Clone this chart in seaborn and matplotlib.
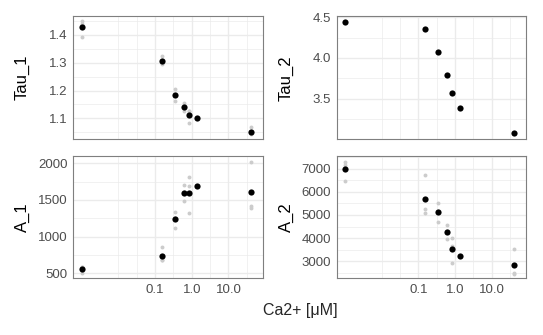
import numpy as np
import pandas as pd
import matplotlib
matplotlib.use("Agg")
import matplotlib.pyplot as plt
from matplotlib.ticker import FixedLocator, NullLocator
import seaborn as sns

# ---- data ----
conc = [0.001, 0.15, 0.35, 0.6, 0.85, 1.37, 40.0]
tau1_mean = [1.428, 1.305, 1.184, 1.142, 1.112, 1.102, 1.052]
tau2_mean = [4.439, 4.353, 4.072, 3.790, 3.570, 3.386, 3.088]
a1_mean = [559, 740, 1236, 1598, 1598, 1694, 1612]
a2_mean = [6985, 5696, 5130, 4260, 3506, 3217, 2813]

rep_conc = [0.001] * 3 + [0.15] * 3 + [0.35] * 3 + [0.6] * 3 + [0.85] * 3 + [40.0] * 3
tau1_rep = [1.450, 1.394, 1.440, 1.324, 1.295, 1.299, 1.205, 1.163, 1.184,
            1.156, 1.142, 1.128, 1.126, 1.084, 1.126, 1.068, 1.046, 1.042]
a1_rep = [508, 580, 589, 862, 681, 677, 1340, 1113, 1255,
          1703, 1489, 1602, 1816, 1690, 1317, 2020, 1417, 1394]
a2_rep = [7320, 6480, 7155, 6726, 5248, 5100, 5509, 4709, 5172,
          4552, 3943, 4285, 3987, 2900, 3631, 3507, 2490, 2442]

x_ticks = [0.1, 1.0, 10.0]
x_ticklabels = ["0.1", "1.0", "10.0"]

panels = [
    ("Tau_1", tau1_mean, tau1_rep, (1.0256, 1.468), [1.1, 1.2, 1.3, 1.4], ["1.1", "1.2", "1.3", "1.4"], 0.05),
    ("Tau_2", tau2_mean, None, (3.010, 4.507), [3.5, 4.0, 4.5], ["3.5", "4.0", "4.5"], 0.25),
    ("A_1", a1_mean, a1_rep, (432, 2098), [500, 1000, 1500, 2000], ["500", "1000", "1500", "2000"], 250),
    ("A_2", a2_mean, a2_rep, (2248, 7565), [3000, 4000, 5000, 6000, 7000],
     ["3000", "4000", "5000", "6000", "7000"], 500),
]

# ---- style ----
sns.set_style("white")
plt.rcParams["font.family"] = ["Liberation Sans", "DejaVu Sans"]

W, H = 543, 335
fig = plt.figure(figsize=(W / 100, H / 100), dpi=100)

# pixel boxes (left, top, right, bottom)
boxes = [(73.3, 16, 263, 139), (336.7, 16.5, 526, 139),
         (73.3, 156, 263, 278.3), (336.7, 156, 526, 278.3)]
title_x = [22.5, 286.5, 22.5, 286.5]

grid_c = "#EBEBEB"
border_c = "#333333"
tick_c = "#4D4D4D"
xlim = (10 ** -3.226, 10 ** 1.94)

for (name, mean, rep, ylim, yt, ytl, minor_step), (l, t, r, b), tx in zip(panels, boxes, title_x):
    ax = fig.add_axes([l / W, 1 - b / H, (r - l) / W, (b - t) / H])
    ax.set_xscale("log")
    ax.set_xlim(*xlim)
    ax.set_ylim(*ylim)

    # gridlines (ggplot theme_bw style)
    for lx in [-2, -1.5, -0.5, 0.5, 1.5]:
        ax.axvline(10 ** lx, color=grid_c, lw=0.5, zorder=0)
    for lx in [-1, 0, 1]:
        ax.axvline(10 ** lx, color=grid_c, lw=1.0, zorder=0)
    y_minor = np.arange(yt[0] - minor_step, yt[-1] + 2 * minor_step, 2 * minor_step)
    for yv in y_minor:
        ax.axhline(yv, color=grid_c, lw=0.5, zorder=0)
    for yv in yt:
        ax.axhline(yv, color=grid_c, lw=1.0, zorder=0)

    if rep is not None:
        df_rep = pd.DataFrame({"conc": rep_conc, "val": rep})
        sns.scatterplot(data=df_rep, x="conc", y="val", ax=ax, color="#CCCCCC",
                        s=8, linewidth=0, zorder=2)
    df_mean = pd.DataFrame({"conc": conc, "val": mean})
    sns.scatterplot(data=df_mean, x="conc", y="val", ax=ax, color="black",
                    s=20, linewidth=0, zorder=3)

    ax.xaxis.set_major_locator(FixedLocator(x_ticks))
    ax.xaxis.set_minor_locator(NullLocator())
    ax.set_yticks(yt)
    ax.set_yticklabels(ytl)
    ax.tick_params(axis="both", which="major", length=2.5, width=0.6, color=border_c,
                   labelcolor=tick_c, labelsize=9.5, pad=1.5, direction="out")
    if name in ("A_1", "A_2"):
        ax.set_xticklabels(x_ticklabels)
    else:
        ax.set_xticklabels([])
        ax.tick_params(axis="x", length=0)
    ax.set_xlabel("")
    ax.set_ylabel("")
    for sp in ax.spines.values():
        sp.set_color("#7F7F7F")
        sp.set_linewidth(0.8)

    fig.text(tx / W, 1 - ((t + b) / 2) / H, name, rotation=90, ha="center", va="center",
             fontsize=12, color="black")

fig.text(300 / W, 1 - 310 / H, "Ca2+ [μM]", ha="center", va="center", fontsize=11.5)

fig.savefig("out.png", dpi=100)
